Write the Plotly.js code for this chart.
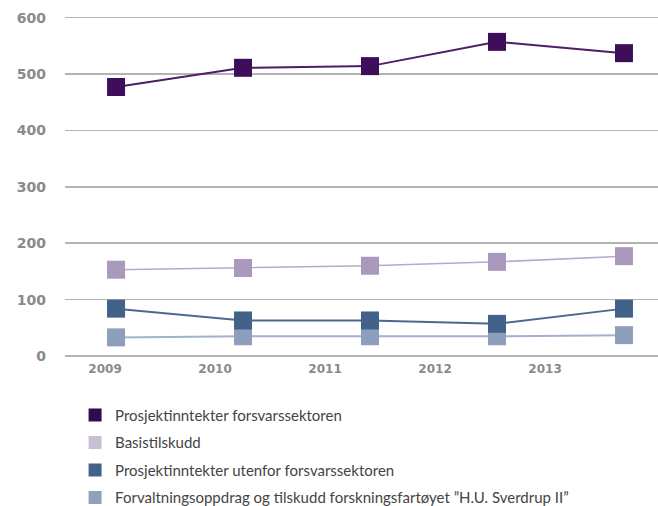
<!DOCTYPE html>
<html>
<head>
<meta charset="utf-8">
<script src="https://cdn.plot.ly/plotly-3.0.1.min.js"></script>
<style>html,body{margin:0;padding:0;background:#fff;}#chart{width:658px;height:506px;}</style>
</head>
<body>
<div id="chart"></div>
<script>
const years = [2009, 2010, 2011, 2012, 2013];
const yearLabels = ["2009", "2010", "2011", "2012", "2013"];
const yTicks = [0, 100, 200, 300, 400, 500, 600];
const yTickLabels = ["0", "100", "200", "300", "400", "500", "600"];

const seriesNames = [
  "Prosjektinntekter forsvarssektoren",
  "Basistilskudd",
  "Prosjektinntekter utenfor forsvarssektoren",
  "Forvaltningsoppdrag og tilskudd forskningsfartøyet \u201dH.U. Sverdrup II\u201d"
];
const forsvar = [477, 511, 514, 557, 537];
const basis = [153, 156, 160, 167, 177];
const utenfor = [84, 63, 63, 57, 84];
const forvaltning = [33, 35, 35, 35, 37];

const markerColors = ["#3f0e5b", "#a899bd", "#43628a", "#8e9fbd"];
const lineColors = ["#4f1b6a", "#b8a8cb", "#4b6990", "#a2b1cc"];
const legendColors = ["#330a4f", "#c9bfd5", "#43628a", "#90a0bd"];
const values = [forsvar, basis, utenfor, forvaltning];

const drawOrder = [3, 1, 2, 0];
const traces = [];
drawOrder.forEach(i => {
  traces.push({
    x: years, y: values[i], type: "scatter", mode: "lines+markers",
    name: seriesNames[i], showlegend: false,
    line: {color: lineColors[i], width: i === 1 ? 1.6 : 2},
    marker: {symbol: "square", size: 18, color: markerColors[i], line: {width: 0}},
    xaxis: "x", yaxis: "y", hoverinfo: "skip"
  });
});
[0, 1, 2, 3].forEach(i => {
  traces.push({
    x: [null], y: [null], type: "scatter", mode: "markers",
    name: seriesNames[i], showlegend: true, legendgroup: "g" + i,
    marker: {symbol: "square", size: 13, color: legendColors[i], line: {width: 0}},
    xaxis: "x2", yaxis: "y"
  });
});

const layout = {
  width: 658, height: 506,
  margin: {l: 65, r: 0, t: 10, b: 150},
  paper_bgcolor: "#ffffff", plot_bgcolor: "#ffffff",
  showlegend: true,
  font: {family: "Lato, 'Open Sans', sans-serif", color: "#444"},
  xaxis: {
    range: [2008.598, 2013.268], showgrid: false, zeroline: false,
    showticklabels: false, ticks: "", showline: false, fixedrange: true
  },
  xaxis2: {
    overlaying: "x", anchor: "y", side: "bottom",
    range: [2008.636, 2014.027], showgrid: false, zeroline: false,
    tickmode: "array", tickvals: years, ticktext: yearLabels,
    ticks: "", showline: false, ticklabelstandoff: 4,
    tickfont: {family: "'DejaVu Sans', sans-serif", size: 12, color: "#8a8a8a", weight: "bold"}
  },
  yaxis: {
    range: [0, 613.5], tickmode: "array", tickvals: yTicks, ticktext: yTickLabels,
    showgrid: true, gridcolor: "#b3b3b3", gridwidth: 1.6,
    zeroline: true, zerolinecolor: "#b3b3b3", zerolinewidth: 1.6,
    ticks: "", showline: false, ticklabelstandoff: 18,
    tickfont: {family: "'DejaVu Sans', sans-serif", size: 14, color: "#8a8a8a", weight: "bold"}
  },
  legend: {
    xref: "paper", yref: "container",
    x: 0.017, xanchor: "left", y: 0.212, yanchor: "top",
    orientation: "v", traceorder: "grouped", tracegroupgap: 5,
    font: {family: "Lato, 'Open Sans', sans-serif", size: 15, color: "#444"},
    bgcolor: "rgba(0,0,0,0)", borderwidth: 0, itemsizing: "trace"
  }
};

Plotly.newPlot("chart", traces, layout, {displayModeBar: false, staticPlot: true});
</script>
</body>
</html>
